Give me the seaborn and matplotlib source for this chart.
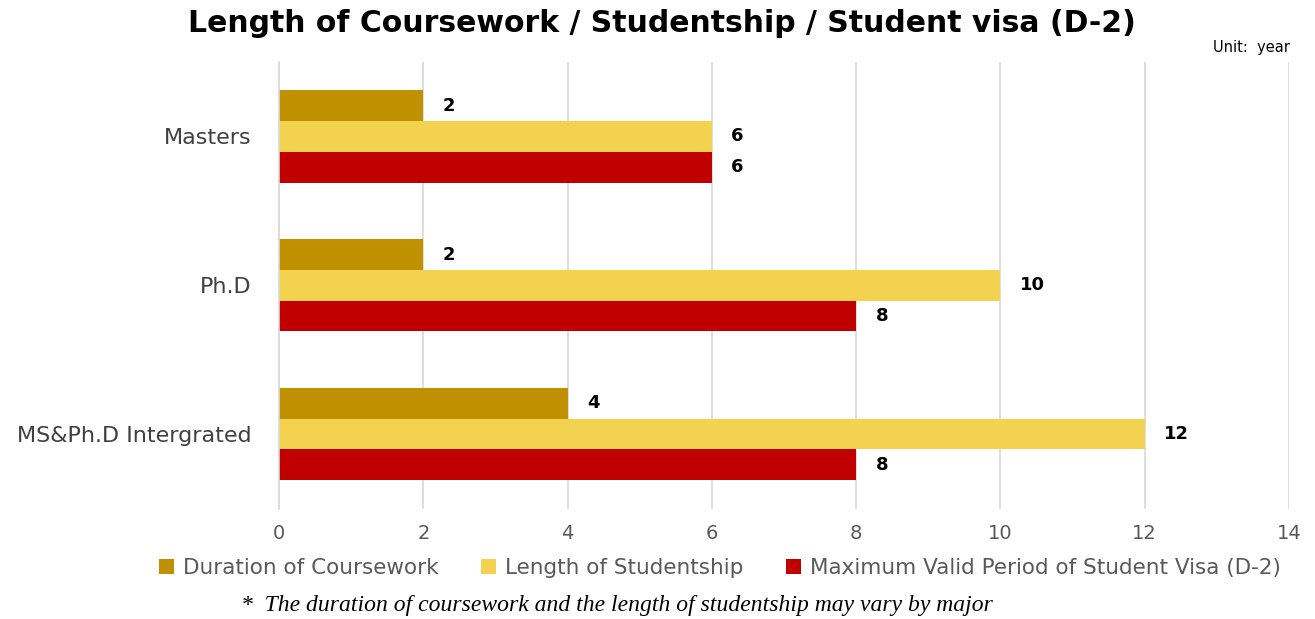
import matplotlib
matplotlib.use("Agg")
import matplotlib.pyplot as plt
import seaborn as sns
import pandas as pd

categories = ["Masters", "Ph.D", "MS&Ph.D Intergrated"]
series_names = ["Duration of Coursework", "Length of Studentship",
                "Maximum Valid Period of Student Visa (D-2)"]
coursework = [2, 2, 4]
studentship = [6, 10, 12]
visa = [6, 8, 8]
colors = ["#BF9000", "#F2D24E", "#C00000"]
x_ticks = [0, 2, 4, 6, 8, 10, 12, 14]

rows = []
for name, vals in zip(series_names, [coursework, studentship, visa]):
    for c, v in zip(categories, vals):
        rows.append({"Category": c, "Series": name, "Value": v})
df = pd.DataFrame(rows)

sns.set_theme(style="white")
plt.rcParams['font.family'] = ['DejaVu Sans']

fig = plt.figure(figsize=(13.15, 6.19), dpi=100)
ax = fig.add_axes([0.2122, 0.1785, 0.768, 0.7213])

sns.barplot(data=df, y="Category", x="Value", hue="Series", order=categories,
            hue_order=series_names, palette=colors, orient="h", width=0.62,
            ax=ax, legend=True, saturation=1, linewidth=0)

ax.set_xlim(0, 14)
ax.set_ylim(2.5, -0.5)
ax.set_xticks(x_ticks)
ax.xaxis.grid(True, color="#D9D9D9", linewidth=1.2)
ax.set_axisbelow(True)
for s in ["top", "right", "bottom"]:
    ax.spines[s].set_visible(False)
ax.spines["left"].set_color("#D9D9D9")
ax.spines["left"].set_linewidth(1.2)
ax.tick_params(axis="x", colors="#595959", labelsize=14, length=0, pad=11)
ax.tick_params(axis="y", colors="#404040", labelsize=16, length=0, pad=20)
for lab in ax.get_xticklabels():
    lab.set_color("#595959")
for lab in ax.get_yticklabels():
    lab.set_color("#404040")
ax.set_xlabel("")
ax.set_ylabel("")

for cont in ax.containers:
    ax.bar_label(cont, labels=[f"{int(v)}" for v in cont.datavalues],
                 padding=14, fontsize=13, fontweight="bold", color="black")

h, l = ax.get_legend_handles_labels()
ax.get_legend().remove()
fig.legend(h, l, loc="center", bbox_to_anchor=(0.5475, 0.083), ncol=3,
           frameon=False, fontsize=15.5, handlelength=0.7, handleheight=0.7,
           handletextpad=0.4, columnspacing=2.0, labelcolor="#595959")

fig.text(0.503, 0.962, "Length of Coursework / Studentship / Student visa (D-2)",
         ha="center", va="center", fontsize=21.5, fontweight="bold", color="black")
fig.text(0.981, 0.923, "Unit:  year", ha="right", va="center", fontsize=10.5,
         color="black")
fig.text(0.183, 0.022, "*  The duration of coursework and the length of studentship may vary by major",
         ha="left", va="center", fontsize=17, style="italic",
         family=["Liberation Serif", "DejaVu Serif"], color="black")

fig.savefig("out.png", dpi=100)
